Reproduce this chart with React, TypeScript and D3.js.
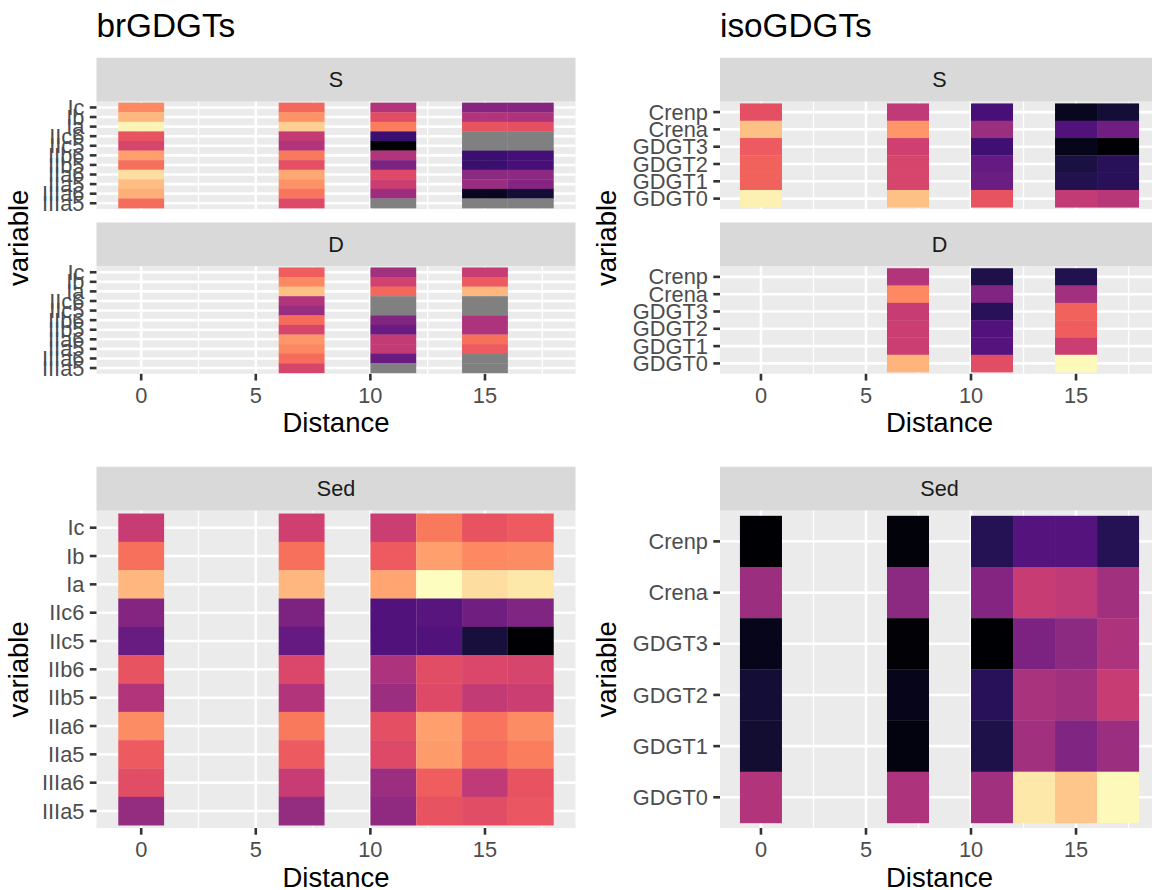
import React, { useEffect, useRef } from "react";
import * as d3 from "d3";

// variables, listed top to bottom as they appear on the y axis
const brVars = ["Ic", "Ib", "Ia", "IIc6", "IIc5", "IIb6", "IIb5", "IIa6", "IIa5", "IIIa6", "IIIa5"];
const isoVars = ["Crenp", "Crena", "GDGT3", "GDGT2", "GDGT1", "GDGT0"];

// sampling distances per facet
const distS = [0, 7, 11, 15, 17];
const distD = [7, 11, 15];
const distSed = [0, 7, 11, 13, 15, 17];

const xTicks = [0, 5, 10, 15];
const xMinor = [2.5, 7.5, 12.5, 17.5];

// scaled abundance (0-1), rows = variables, cols = distances, null = NA
const brS = [
  [0.75, 0.68, 0.49, 0.38, 0.38],
  [0.85, 0.77, 0.61, 0.49, 0.48],
  [0.98, 0.9, 0.73, 0.63, 0.62],
  [0.63, 0.53, 0.2, null, null],
  [0.58, 0.49, 0.0, null, null],
  [0.8, 0.72, 0.49, 0.2, 0.22],
  [0.7, 0.62, 0.36, 0.2, 0.23],
  [0.93, 0.82, 0.6, 0.4, 0.4],
  [0.86, 0.77, 0.55, 0.43, 0.38],
  [0.83, 0.71, 0.44, 0.06, 0.1],
  [0.69, 0.6, null, null, null],
];

const brD = [
  [0.66, 0.45, 0.54],
  [0.75, 0.57, 0.65],
  [0.87, 0.68, 0.85],
  [0.49, null, null],
  [0.43, null, null],
  [0.69, 0.37, 0.48],
  [0.58, 0.31, 0.48],
  [0.78, 0.53, 0.7],
  [0.75, 0.53, 0.65],
  [0.69, 0.31, null],
  [0.58, null, null],
];

const brSed = [
  [0.54, 0.56, 0.55, 0.72, 0.63, 0.65],
  [0.7, 0.7, 0.65, 0.8, 0.75, 0.76],
  [0.85, 0.85, 0.81, 1.0, 0.93, 0.95],
  [0.38, 0.36, 0.25, 0.27, 0.33, 0.37],
  [0.31, 0.3, 0.25, 0.25, 0.11, 0.0],
  [0.63, 0.59, 0.48, 0.61, 0.59, 0.58],
  [0.49, 0.49, 0.44, 0.6, 0.53, 0.55],
  [0.76, 0.72, 0.62, 0.8, 0.71, 0.76],
  [0.65, 0.65, 0.6, 0.79, 0.69, 0.73],
  [0.61, 0.54, 0.44, 0.66, 0.52, 0.63],
  [0.42, 0.42, 0.41, 0.63, 0.61, 0.64],
];

const isoS = [
  [0.62, 0.52, 0.23, 0.06, 0.1],
  [0.87, 0.78, 0.44, 0.25, 0.33],
  [0.65, 0.56, 0.21, 0.05, 0.0],
  [0.67, 0.58, 0.3, 0.12, 0.16],
  [0.67, 0.58, 0.32, 0.14, 0.16],
  [0.97, 0.87, 0.63, 0.53, 0.5],
];

const isoD = [
  [0.49, 0.13, 0.14],
  [0.75, 0.37, 0.45],
  [0.54, 0.16, 0.67],
  [0.55, 0.25, 0.66],
  [0.55, 0.26, 0.55],
  [0.84, 0.61, 0.99],
];

const isoSed = [
  [0.0, 0.02, 0.15, 0.26, 0.26, 0.15],
  [0.44, 0.4, 0.38, 0.54, 0.52, 0.45],
  [0.05, 0.01, 0.0, 0.36, 0.4, 0.48],
  [0.1, 0.05, 0.16, 0.47, 0.45, 0.54],
  [0.09, 0.03, 0.13, 0.45, 0.37, 0.44],
  [0.49, 0.48, 0.45, 0.95, 0.88, 0.99],
];

const FONT = "'Liberation Sans', Arial, Helvetica, sans-serif";

const drawPanel = (svg, p) => {
  const x = d3.scaleLinear().domain([-1.95, 18.95]).range([p.left, p.right]);
  const y = d3
    .scaleBand()
    .domain(p.vars)
    .range([p.top, p.bottom])
    .paddingInner(0)
    .paddingOuter(0.1);
  const color = d3.scaleSequential(d3.interpolateMagma).domain([0, 1]);

  const g = svg.append("g");

  // strip
  g.append("rect")
    .attr("x", p.left)
    .attr("y", p.top - 44)
    .attr("width", p.right - p.left)
    .attr("height", 44)
    .attr("fill", "#D9D9D9");
  g.append("text")
    .attr("x", (p.left + p.right) / 2)
    .attr("y", p.top - 22 + 7.6)
    .attr("text-anchor", "middle")
    .style("font-size", "21.6px")
    .style("fill", "#1A1A1A")
    .text(p.strip);

  // panel background + grid
  g.append("rect")
    .attr("x", p.left)
    .attr("y", p.top)
    .attr("width", p.right - p.left)
    .attr("height", p.bottom - p.top)
    .attr("fill", "#EBEBEB");

  g.selectAll(".minor")
    .data(xMinor)
    .enter()
    .append("line")
    .attr("x1", (d) => x(d))
    .attr("x2", (d) => x(d))
    .attr("y1", p.top)
    .attr("y2", p.bottom)
    .attr("stroke", "white")
    .attr("stroke-width", 1.3);

  g.selectAll(".majx")
    .data(xTicks)
    .enter()
    .append("line")
    .attr("x1", (d) => x(d))
    .attr("x2", (d) => x(d))
    .attr("y1", p.top)
    .attr("y2", p.bottom)
    .attr("stroke", "white")
    .attr("stroke-width", 2.6);

  g.selectAll(".majy")
    .data(p.vars)
    .enter()
    .append("line")
    .attr("x1", p.left)
    .attr("x2", p.right)
    .attr("y1", (d) => y(d) + y.bandwidth() / 2)
    .attr("y2", (d) => y(d) + y.bandwidth() / 2)
    .attr("stroke", "white")
    .attr("stroke-width", 2.6);

  // tiles
  const cells = [];
  p.values.forEach((row, i) =>
    row.forEach((v, j) => cells.push({ v: p.vars[i], d: p.dists[j], val: v }))
  );
  g.selectAll(".tile")
    .data(cells)
    .enter()
    .append("rect")
    .attr("x", (d) => x(d.d - 1))
    .attr("width", (d) => x(d.d + 1) - x(d.d - 1))
    .attr("y", (d) => y(d.v))
    .attr("height", y.bandwidth() + 0.3)
    .attr("fill", (d) => (d.val == null ? "#808080" : color(d.val)));

  // y axis
  g.selectAll(".yt")
    .data(p.vars)
    .enter()
    .append("line")
    .attr("x1", p.left - 6.7)
    .attr("x2", p.left)
    .attr("y1", (d) => y(d) + y.bandwidth() / 2)
    .attr("y2", (d) => y(d) + y.bandwidth() / 2)
    .attr("stroke", "#333333")
    .attr("stroke-width", 2.6);
  g.selectAll(".yl")
    .data(p.vars)
    .enter()
    .append("text")
    .attr("x", p.left - 12.1)
    .attr("y", (d) => y(d) + y.bandwidth() / 2 + 7.6)
    .attr("text-anchor", "end")
    .style("font-size", "21.8px")
    .style("fill", "#4D4D4D")
    .text((d) => d);

  // x axis
  if (p.showX) {
    g.selectAll(".xt")
      .data(xTicks)
      .enter()
      .append("line")
      .attr("x1", (d) => x(d))
      .attr("x2", (d) => x(d))
      .attr("y1", p.bottom)
      .attr("y2", p.bottom + 6.7)
      .attr("stroke", "#333333")
      .attr("stroke-width", 2.6);
    g.selectAll(".xl")
      .data(xTicks)
      .enter()
      .append("text")
      .attr("x", (d) => x(d))
      .attr("y", p.bottom + 29)
      .attr("text-anchor", "middle")
      .style("font-size", "21.8px")
      .style("fill", "#4D4D4D")
      .text((d) => d);
    g.append("text")
      .attr("x", (p.left + p.right) / 2)
      .attr("y", p.bottom + 58.5)
      .attr("text-anchor", "middle")
      .style("font-size", "27.5px")
      .style("fill", "black")
      .text("Distance");
  }
};

const App = () => {
  const svgRef = useRef(null);

  useEffect(() => {
    const svg = d3.select(svgRef.current);
    svg.selectAll("*").remove();
    svg.style("font-family", FONT);

    const cols = [
      { left: 96.5, right: 575.5, title: "brGDGTs", vars: brVars, S: brS, D: brD, Sed: brSed, yTitle: 28 },
      { left: 720, right: 1159, title: "isoGDGTs", vars: isoVars, S: isoS, D: isoD, Sed: isoSed, yTitle: 616 },
    ];

    cols.forEach((c) => {
      svg
        .append("text")
        .attr("x", c.left)
        .attr("y", 36.7)
        .style("font-size", "33.3px")
        .style("fill", "black")
        .text(c.title);

      drawPanel(svg, { ...c, top: 101.7, bottom: 209, strip: "S", dists: distS, values: c.S, showX: false });
      drawPanel(svg, { ...c, top: 266.5, bottom: 373.8, strip: "D", dists: distD, values: c.D, showX: true });
      drawPanel(svg, { ...c, top: 510.7, bottom: 828, strip: "Sed", dists: distSed, values: c.Sed, showX: true });

      [237.8, 669.4].forEach((cy) => {
        svg
          .append("text")
          .attr("transform", `translate(${c.yTitle}, ${cy}) rotate(-90)`)
          .attr("text-anchor", "middle")
          .style("font-size", "27.5px")
          .style("fill", "black")
          .text("variable");
      });
    });
  }, []);

  return (
    <svg
      ref={svgRef}
      width={1152}
      height={890}
      style={{ position: "absolute", left: 0, top: 0, background: "white" }}
    ></svg>
  );
};

export default App;
